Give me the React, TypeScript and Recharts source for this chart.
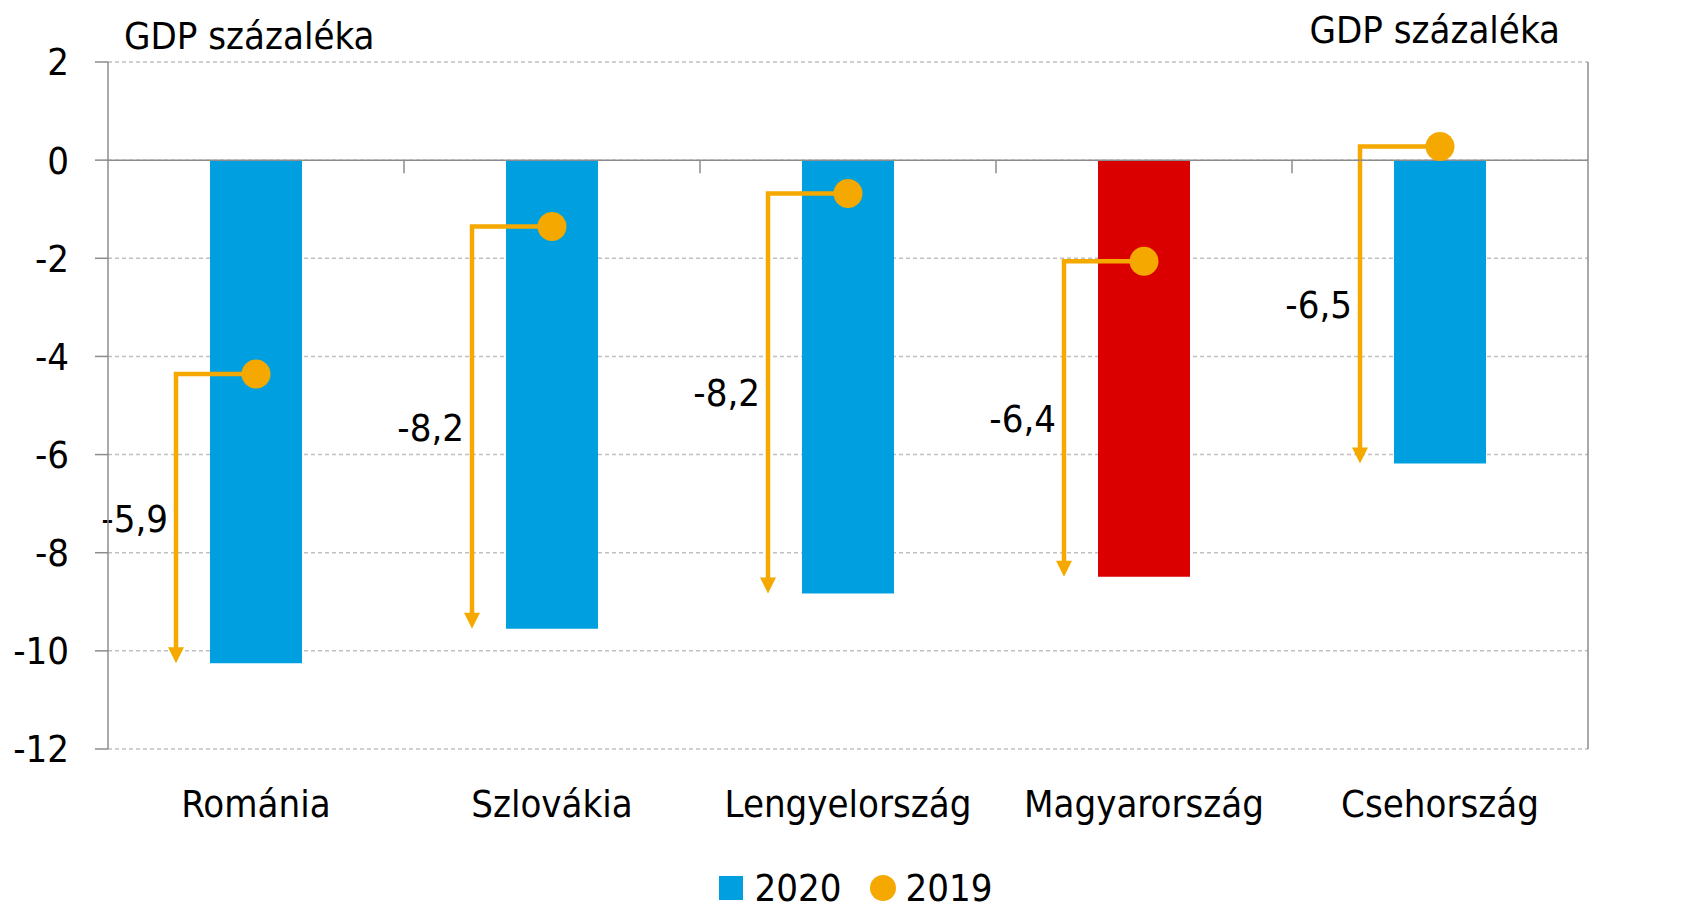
import React from 'react';
import { ComposedChart, Bar, Line, XAxis, YAxis, CartesianGrid, ReferenceLine, Legend, Label, Cell } from 'recharts';

// GDP százaléka, 2020 vs 2019
const categories = ['Románia', 'Szlovákia', 'Lengyelország', 'Magyarország', 'Csehország'];
const values2020 = [-10.25, -9.55, -8.83, -8.49, -6.18];
const values2019 = [-4.36, -1.35, -0.68, -2.06, 0.28];
const changeLabels = ['-5,9', '-8,2', '-8,2', '-6,4', '-6,5'];
const yTicks = [2, 0, -2, -4, -6, -8, -10, -12];
const highlighted = 'Magyarország';

const BLUE = '#009FDF';
const RED = '#DA0000';
const ORANGE = '#F5A800';
const AXIS = '#8C8C8C';
const FONT = '"Liberation Sans Narrow", "DejaVu Sans Condensed", "Open Sans", sans-serif';
const FS = 38;

const data = categories.map((name, i) => ({
    name,
    v2020: values2020[i],
    v2019: values2019[i],
    change: changeLabels[i],
}));

// L-shaped arrow from the 2019 dot down to the 2020 value, with the change label
function ChangeArrow(props: any) {
    const { x, y, width, height, payload } = props;
    if (x == null || y == null) return null;
    const cx = x + width / 2;
    const top = Math.min(y, y + height);
    const bottom = Math.max(y, y + height);
    const ax = cx - 80;
    const head = 16;
    return (
        <g>
            <polyline
                points={`${cx},${top} ${ax},${top} ${ax},${bottom - head + 2}`}
                fill="none"
                stroke={ORANGE}
                strokeWidth={4.5}
                strokeLinejoin="miter"
            />
            <polygon points={`${ax - 8},${bottom - head} ${ax + 8},${bottom - head} ${ax},${bottom}`} fill={ORANGE} />
            <text x={ax - 8} y={(top + bottom) / 2} textAnchor="end" dominantBaseline="central" fontSize={FS} fill="#000">
                {payload.change}
            </text>
        </g>
    );
}

function ZeroLine(props: any) {
    const { x1, y1, x2, y2 } = props;
    const step = (x2 - x1) / categories.length;
    return (
        <g>
            <line x1={x1} y1={y1} x2={x2} y2={y2} stroke={AXIS} strokeWidth={1.5} />
            {categories.slice(1).map((c, i) => (
                <line key={c} x1={x1 + step * (i + 1)} x2={x1 + step * (i + 1)} y1={y1} y2={y1 + 13} stroke={AXIS} strokeWidth={1.5} />
            ))}
        </g>
    );
}

function LegendContent() {
    return (
        <div style={{ height: 44, display: 'flex', justifyContent: 'center', alignItems: 'center', fontSize: FS, color: '#000', paddingLeft: 24 }}>
            <span style={{ width: 24, height: 24, background: BLUE, display: 'inline-block', marginRight: 12 }} />
            <span style={{ marginRight: 28 }}>2020</span>
            <span style={{ width: 26, height: 26, borderRadius: 13, background: ORANGE, display: 'inline-block', marginRight: 10 }} />
            <span>2019</span>
        </div>
    );
}

export default function App() {
    return (
        <div style={{ width: 1687, height: 910, overflow: 'hidden', fontFamily: FONT, background: '#fff' }}>
            <style>{'body{margin:0}'}</style>
            <ComposedChart width={1687} height={910} data={data} margin={{ top: 62, right: 0, bottom: 0, left: 0 }}>
                <CartesianGrid vertical={false} stroke="#C0C0C0" strokeDasharray="4 3" strokeWidth={1.5} />
                <XAxis
                    dataKey="name"
                    axisLine={false}
                    tickLine={false}
                    tickSize={0}
                    tickMargin={41}
                    height={117}
                    interval={0}
                    tick={{ fontSize: FS, fill: '#000' }}
                />
                <XAxis xAxisId="arrow" dataKey="name" hide />
                <YAxis
                    domain={[-12, 2]}
                    ticks={yTicks}
                    width={108}
                    tickSize={13}
                    tickMargin={26}
                    stroke={AXIS}
                    axisLine={{ stroke: AXIS, strokeWidth: 1.5 }}
                    tickLine={{ stroke: AXIS, strokeWidth: 1.5 }}
                    tick={{ fontSize: FS, fill: '#000' }}
                >
                    <Label
                        content={(p: any) => (
                            <text x={p.viewBox.x + p.viewBox.width + 16} y={p.viewBox.y - 13} fontSize={FS} fill="#000">
                                GDP százaléka
                            </text>
                        )}
                    />
                </YAxis>
                <YAxis
                    yAxisId="right"
                    orientation="right"
                    domain={[-12, 2]}
                    ticks={yTicks}
                    width={99}
                    tickSize={13}
                    tickMargin={28}
                    stroke={AXIS}
                    axisLine={{ stroke: AXIS, strokeWidth: 1.5 }}
                    tickLine={{ stroke: AXIS, strokeWidth: 1.5 }}
                    tick={{ fontSize: FS, fill: '#000' }}
                >
                    <Label
                        content={(p: any) => (
                            <text x={p.viewBox.x - 28} y={p.viewBox.y - 19} fontSize={FS} fill="#000" textAnchor="end">
                                GDP százaléka
                            </text>
                        )}
                    />
                </YAxis>
                <Bar dataKey="v2020" name="2020" barSize={92} isAnimationActive={false}>
                    {data.map((d) => (
                        <Cell key={d.name} fill={d.name === highlighted ? RED : BLUE} />
                    ))}
                </Bar>
                <ReferenceLine y={0} shape={ZeroLine} />
                <Bar
                    xAxisId="arrow"
                    dataKey={(d: any) => [d.v2019, d.v2020]}
                    barSize={10}
                    shape={ChangeArrow}
                    legendType="none"
                    isAnimationActive={false}
                />
                <Line
                    dataKey="v2019"
                    name="2019"
                    stroke="none"
                    dot={{ r: 14.5, fill: ORANGE, stroke: 'none' }}
                    activeDot={false}
                    isAnimationActive={false}
                />
                <Legend verticalAlign="bottom" content={LegendContent} />
            </ComposedChart>
        </div>
    );
}
